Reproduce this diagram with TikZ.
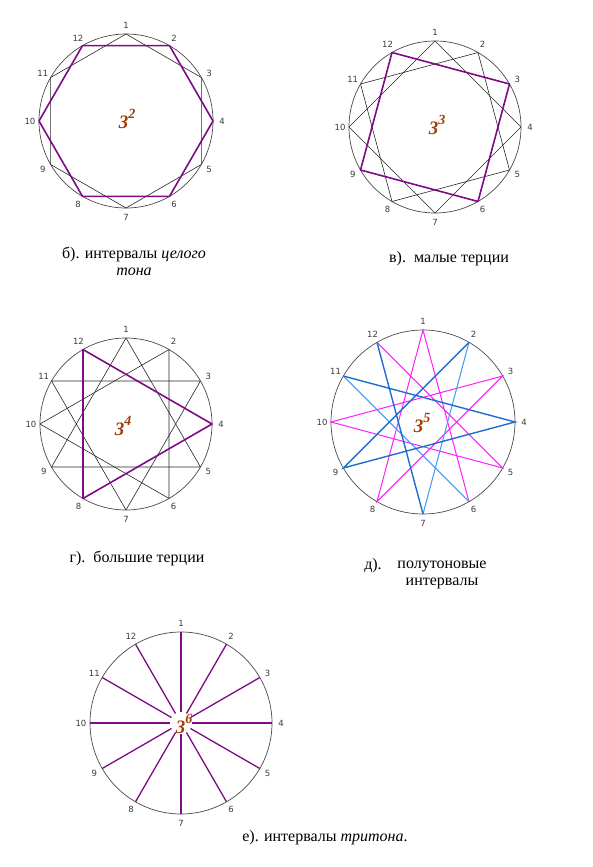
\documentclass[tikz,border=0pt]{standalone}
\usepackage{fontspec}
\setmainfont{Liberation Serif}
\newfontfamily\numfont{DejaVu Sans}
\usetikzlibrary{calc}
\definecolor{ivPurple}{HTML}{7E0A86}
\definecolor{ivBrown}{HTML}{A33A08}
\definecolor{ivPink}{HTML}{FF1EFF}
\definecolor{ivBlue}{HTML}{3C9AF2}
\definecolor{ivBlueDeep}{HTML}{1E6ED2}
\definecolor{ivNum}{HTML}{3A3A3A}
\definecolor{ivRim}{HTML}{4A4A4A}

\begin{document}
\begin{tikzpicture}[x=1pt,y=-1pt,
  rim/.style={draw=ivRim,line width=0.7pt},
  chord/.style={black!85,line width=0.6pt,line join=round},
  keychord/.style={ivPurple,line width=1.6pt,line join=round},
  pinkchord/.style={ivPink,line width=1pt},
  bluechord/.style={ivBlue,line width=1pt},
  deepchord/.style={ivBlueDeep,line width=1.4pt},
  num/.style={text=ivNum,font=\numfont\fontsize{8.5}{9}\selectfont,inner sep=0pt},
  power/.style={text=ivBrown,font=\bfseries\itshape\fontsize{19}{19}\selectfont,inner sep=1pt},
  caption/.style={font=\fontsize{16}{17}\selectfont,align=center,inner sep=0pt}]
\useasboundingbox (0,0) rectangle (593,867);

% the five dials with their twelve points
\foreach \dial/\cx/\cy/\rad in {a/126/121/87,b/435/127/86,c/126/424/86,d/423/422/92,e/181/723/91}{
  \coordinate (\dial0) at (\cx,\cy);
  \draw[rim] (\dial0) circle (\rad pt);
  \pgfmathsetmacro\rlab{\rad+9}
  \foreach \i in {1,...,12}{
    \pgfmathsetmacro\ang{120-30*\i}
    \coordinate (\dial\i) at ($(\dial0)+(\ang:\rad pt)$);
    \node[num] (\dial n\i) at ($(\dial0)+(\ang:\rlab pt)$) {\i};
  }
}

% b) whole tones
\draw[chord] (a1) -- (a3) -- (a5) -- (a7) -- (a9) -- (a11) -- cycle;
\draw[keychord] (a2) -- (a4) -- (a6) -- (a8) -- (a10) -- (a12) -- cycle;
\node[power] (apow) at (127,119) {3\raisebox{0.5em}{\fontsize{14}{14}\selectfont 2}};
\node[caption] (acap) at (134,261) {б). интервалы \textit{целого}\\\textit{тона}};

% v) minor thirds
\draw[chord] (b1) -- (b4) -- (b7) -- (b10) -- cycle;
\draw[chord] (b2) -- (b5) -- (b8) -- (b11) -- cycle;
\draw[keychord] (b3) -- (b6) -- (b9) -- (b12) -- cycle;
\node[power] (bpow) at (437,125) {3\raisebox{0.5em}{\fontsize{14}{14}\selectfont 3}};
\node[caption] (bcap) at (449,259) {в).\ \ малые терции};

% g) major thirds
\draw[chord] (c1) -- (c5) -- (c9) -- cycle;
\draw[chord] (c2) -- (c6) -- (c10) -- cycle;
\draw[chord] (c3) -- (c7) -- (c11) -- cycle;
\draw[keychord] (c4) -- (c8) -- (c12) -- cycle;
\node[power] (cpow) at (123,426) {3\raisebox{0.5em}{\fontsize{14}{14}\selectfont 4}};
\node[caption] (ccap) at (137,558) {г).\ \ большие терции};

% d) semitones, star of fifths
\draw[pinkchord] (d12) -- (d5) -- (d10) -- (d3) -- (d8) -- (d1) -- (d6);
\draw[bluechord] (d6) -- (d11) (d2) -- (d7);
\draw[deepchord] (d11) -- (d4) -- (d9) -- (d2) (d7) -- (d12);
\node[power] (dpow) at (422,423) {3\raisebox{0.5em}{\fontsize{14}{14}\selectfont 5}};
\node[caption] (dcap) at (373,566) {д).};
\node[caption] (dcap2) at (442,575) {полутоновые\\интервалы};

% e) tritones
\foreach \i/\j in {1/7,2/8,3/9,4/10,5/11,6/12}
  \draw[keychord,line width=1.3pt] (e\i) -- (e\j);
\fill[white] (e0) circle (11pt);
\node[power] (epow) at (184,724) {3\raisebox{0.5em}{\fontsize{14}{14}\selectfont 6}};
\node[caption] (ecap) at (325,838) {е). интервалы \textit{тритона}.};
\end{tikzpicture}
\end{document}
